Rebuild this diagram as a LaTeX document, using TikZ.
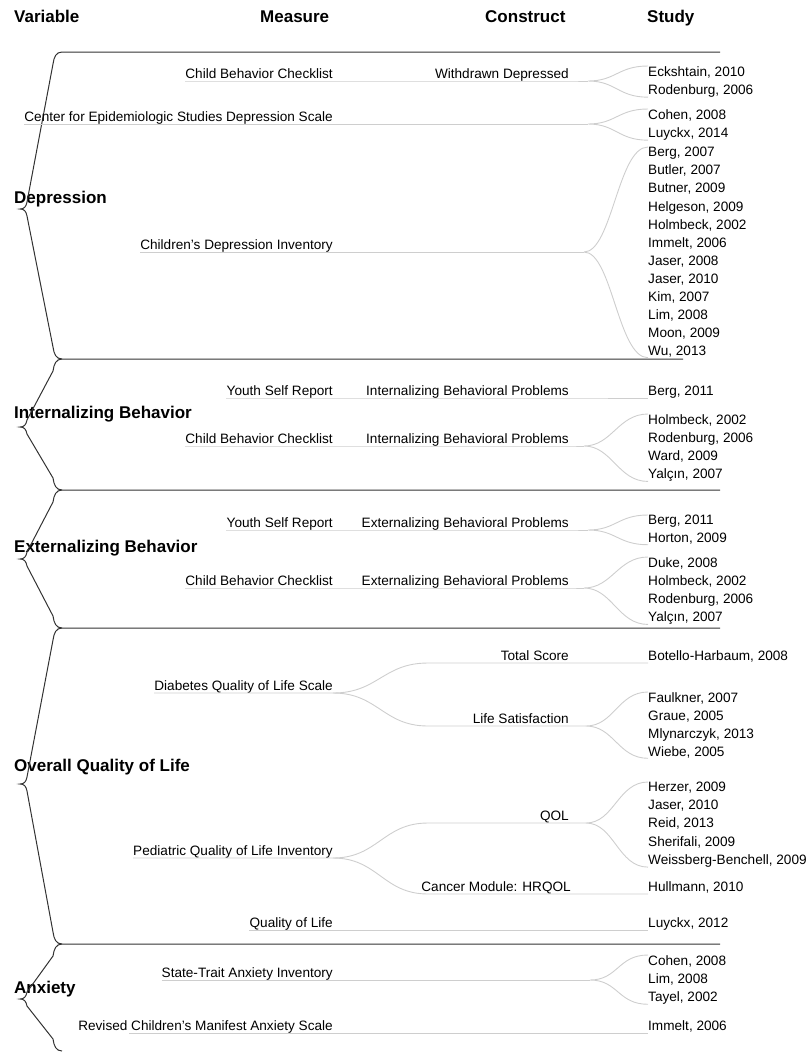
\documentclass[tikz,border=0pt]{standalone}
\usepackage{fontspec}
\setmainfont{Liberation Sans}
\usepackage{tikz}
\definecolor{linkc}{RGB}{206,206,206}
\definecolor{sepc}{RGB}{50,50,50}

\begin{document}
\begin{tikzpicture}[x=1pt,y=-1pt,
  txt/.style={inner sep=0pt,font=\fontsize{13.6}{18.1}\selectfont},
  meas/.style={txt,text height=10pt,text depth=2.5pt,anchor=south east},
  refa/.style={txt,text height=10pt,text depth=2.5pt,anchor=south west},
  refs/.style={txt,align=left,anchor=north west},
  hdr/.style={inner sep=0pt,anchor=base west,font=\bfseries\fontsize{17}{20}\selectfont},
  link/.style={draw=linkc,line width=0.9pt},
  sep/.style={draw=sepc,line width=1pt}]
  \useasboundingbox (0,0) rectangle (811,1053);

  % column heads
  \node (h1) [hdr] at (14,22) {Variable};
  \node (h2) [hdr] at (260,22) {Measure};
  \node (h3) [hdr] at (485,22) {Construct};
  \node (h4) [hdr] at (647,22) {Study};

  % variables
  \node (v1) [hdr] at (14,203) {Depression};
  \node (v2) [hdr] at (14,418) {Internalizing Behavior};
  \node (v3) [hdr] at (14,552) {Externalizing Behavior};
  \node (v4) [hdr] at (14,771) {Overall Quality of Life};
  \node (v5) [hdr] at (14,993) {Anxiety};
  \foreach \ya/\yb/\yc/\xe in {52/209/359/720,359/427/490/683,490/559/628/720,628/784/944/720,944/999/1051/720}
    \draw[sep] (\xe,\ya) -- (62,\ya) .. controls (56,\ya) and (54,\ya+5) .. (53,\ya+12)
      -- (27,\yb-7) .. controls (26,\yb-2) and (24,\yb) .. (20,\yb)
      .. controls (24,\yb) and (26,\yb+2) .. (27,\yb+7)
      -- (53,\yc-12) .. controls (54,\yc-5) and (56,\yc) .. (62,\yc);

  % depression
  \node (m1) [meas] at (333,81) {Child Behavior Checklist};
  \node (c1) [meas] at (569,81) {Withdrawn Depressed};
  \node (s1) [refs] at (648,66) {Eckshtain, 2010\\Rodenburg, 2006};
  \coordinate (f1) at (588,81);
  \node (m2) [meas] at (333,124) {Center for Epidemiologic Studies Depression Scale};
  \node (s2) [refs] at (648,109) {Cohen, 2008\\Luyckx, 2014};
  \coordinate (f2) at (588,124);
  \node (m3) [meas] at (333,252) {Children’s Depression Inventory};
  \node (s3) [refs] at (648,147) {Berg, 2007\\Butler, 2007\\Butner, 2009\\Helgeson, 2009\\Holmbeck, 2002\\Immelt, 2006\\Jaser, 2008\\Jaser, 2010\\Kim, 2007\\Lim, 2008\\Moon, 2009\\Wu, 2013};
  \coordinate (f3) at (584,252);

  % internalizing
  \node (m4) [meas] at (333,398) {Youth Self Report};
  \node (c4) [meas] at (569,398) {Internalizing Behavioral Problems};
  \node (s4) [refa] at (648,398) {Berg, 2011};
  \node (m5) [meas] at (333,446) {Child Behavior Checklist};
  \node (c5) [meas] at (569,446) {Internalizing Behavioral Problems};
  \node (s5) [refs] at (648,414) {Holmbeck, 2002\\Rodenburg, 2006\\Ward, 2009\\Yalçın, 2007};
  \coordinate (f5) at (584,446);

  % externalizing
  \node (m6) [meas] at (333,530) {Youth Self Report};
  \node (c6) [meas] at (569,530) {Externalizing Behavioral Problems};
  \node (s6) [refs] at (648,515) {Berg, 2011\\Horton, 2009};
  \coordinate (f6) at (588,530);
  \node (m7) [meas] at (333,588) {Child Behavior Checklist};
  \node (c7) [meas] at (569,588) {Externalizing Behavioral Problems};
  \node (s7) [refs] at (648,557) {Duke, 2008\\Holmbeck, 2002\\Rodenburg, 2006\\Yalçın, 2007};
  \coordinate (f7) at (584,588);

  % quality of life
  \node (m8) [meas] at (333,693) {Diabetes Quality of Life Scale};
  \coordinate (k8a) at (428,663);
  \coordinate (k8b) at (428,726);
  \node (c8a) [meas] at (569,663) {Total Score};
  \node (s8a) [refa] at (648,663) {Botello-Harbaum, 2008};
  \node (c8b) [meas] at (569,726) {Life Satisfaction};
  \node (s8) [refs] at (648,692) {Faulkner, 2007\\Graue, 2005\\Mlynarczyk, 2013\\Wiebe, 2005};
  \coordinate (f8) at (586,726);
  \node (m9) [meas] at (333,858) {Pediatric Quality of Life Inventory};
  \coordinate (k9a) at (428,823);
  \coordinate (k9b) at (428,894);
  \node (c9a) [meas] at (569,823) {QOL};
  \node (s9) [refs] at (648,782) {Herzer, 2009\\Jaser, 2010\\Reid, 2013\\Sherifali, 2009\\Weissberg-Benchell, 2009};
  \coordinate (f9) at (586,823);
  \node (c9b) [meas] at (571,894) {Cancer Module: HRQOL};
  \node (s9b) [refa] at (648,894) {Hullmann, 2010};
  \node (m10) [meas] at (333,930) {Quality of Life};
  \node (s10) [refa] at (648,930) {Luyckx, 2012};

  % anxiety
  \node (m11) [meas] at (333,980) {State-Trait Anxiety Inventory};
  \node (s11) [refs] at (648,955) {Cohen, 2008\\Lim, 2008\\Tayel, 2002};
  \coordinate (f11) at (590,980);
  \node (m12) [meas] at (333,1033) {Revised Children's Manifest Anxiety Scale};
  \node (s12) [refa] at (648,1033) {Immelt, 2006};

  % links
  \draw[link] (m1.south west) -- (c1.south east) -- (f1);
  \draw[link] (m2.south west) -- (f2);
  \draw[link] (m3.south west) -- (f3);
  \draw[link] (m4.south west) -- (c4.south east) -- (s4.south west);
  \draw[link] (m5.south west) -- (c5.south east) -- (f5);
  \draw[link] (m6.south west) -- (c6.south east) -- (f6);
  \draw[link] (m7.south west) -- (c7.south east) -- (f7);
  \draw[link] (m8.south west) -- (m8.south east) .. controls +(45,0) and +(-45,0) .. (k8a) -- (c8a.south east) -- (s8a.south west);
  \draw[link] (m8.south east) .. controls +(45,0) and +(-45,0) .. (k8b) -- (c8b.south east) -- (f8);
  \draw[link] (m9.south west) -- (m9.south east) .. controls +(45,0) and +(-45,0) .. (k9a) -- (c9a.south east) -- (f9);
  \draw[link] (m9.south east) .. controls +(45,0) and +(-45,0) .. (k9b) -- (c9b.south east) -- (s9b.south west);
  \draw[link] (m10.south west) -- (s10.south west);
  \draw[link] (m11.south west) -- (f11);
  \draw[link] ([xshift=51pt]m12.south west) -- (s12.south west);
  \foreach \f/\s in {f1/s1,f2/s2,f3/s3,f5/s5,f6/s6,f7/s7,f8/s8,f9/s9,f11/s11}
    \draw[link] (\f) .. controls +(28,0) and +(-30,0) .. (\s.north west)
      (\f) .. controls +(28,0) and +(-30,0) .. (\s.south west);
\end{tikzpicture}
\end{document}
